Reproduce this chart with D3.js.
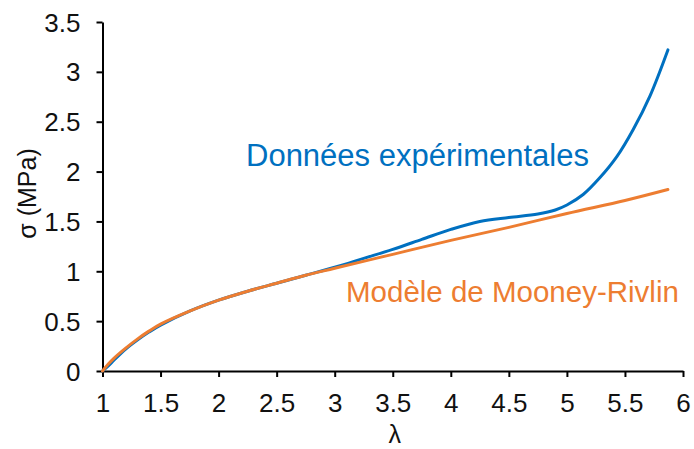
<!DOCTYPE html>
<html>
<head>
<meta charset="utf-8">
<script src="https://cdn.jsdelivr.net/npm/d3@7/dist/d3.min.js"></script>
<style>
  html, body { margin: 0; padding: 0; background: #fff; }
  svg { display: block; font-family: "Liberation Sans", Arial, sans-serif; }
</style>
</head>
<body>
<svg id="chart" width="694" height="449"></svg>
<script>
// Stretch λ and measured / modelled stress σ (MPa)
const expLambda = [1.00, 1.05, 1.10, 1.20, 1.30, 1.40, 1.50, 1.75, 2.00, 2.25, 2.50, 2.75, 3.00, 3.25, 3.50, 3.75, 4.00, 4.25, 4.50, 4.75, 4.90, 5.00, 5.14, 5.285, 5.43, 5.57, 5.716, 5.87];
const expSigma  = [0.00, 0.05, 0.11, 0.22, 0.31, 0.39, 0.46, 0.60, 0.71, 0.80, 0.88, 0.96, 1.04, 1.13, 1.22, 1.32, 1.42, 1.50, 1.54, 1.575, 1.615, 1.665, 1.77, 1.94, 2.15, 2.42, 2.76, 3.22];

const mrLambda = [1.00, 1.05, 1.10, 1.20, 1.30, 1.40, 1.50, 1.75, 2.00, 2.25, 2.50, 2.75, 3.00, 3.50, 4.00, 4.50, 5.00, 5.50, 5.87];
const mrSigma  = [0.00, 0.07, 0.13, 0.23, 0.32, 0.40, 0.47, 0.60, 0.71, 0.80, 0.88, 0.96, 1.03, 1.17, 1.31, 1.44, 1.58, 1.71, 1.82];

const xTicks = [1, 1.5, 2, 2.5, 3, 3.5, 4, 4.5, 5, 5.5, 6];
const yTicks = [0, 0.5, 1, 1.5, 2, 2.5, 3, 3.5];

const seriesNames = ["Données expérimentales", "Modèle de Mooney-Rivlin"];
const seriesColors = ["#0070C0", "#ED7D31"];

const svg = d3.select("#chart");
const plot = { left: 102.5, right: 683, top: 22, bottom: 371 };

const x = d3.scaleLinear().domain([1, 6]).range([plot.left, plot.right]);
const y = d3.scaleLinear().domain([0, 3.5]).range([plot.bottom, plot.top]);

// Axes
const xAxis = d3.axisBottom(x).tickValues(xTicks).tickSize(6).tickSizeOuter(0)
  .tickFormat(d => String(d));
const yAxis = d3.axisLeft(y).tickValues(yTicks).tickSize(6).tickSizeOuter(0)
  .tickFormat(d => String(d));

const gx = svg.append("g").attr("transform", `translate(0,${plot.bottom})`).call(xAxis);
const gy = svg.append("g").attr("transform", `translate(${plot.left},0)`).call(yAxis);

[gx, gy].forEach(g => {
  g.select(".domain").attr("stroke", "#000").attr("stroke-width", 2);
  g.selectAll(".tick line").attr("stroke", "#000").attr("stroke-width", 2);
  g.selectAll(".tick text")
    .attr("fill", "#111")
    .attr("font-size", 26)
    .attr("font-family", "Liberation Sans, Arial, sans-serif");
});
gx.selectAll(".tick text").attr("dy", null).attr("y", 41);
gy.selectAll(".tick text").attr("x", -22).attr("dy", "0.35em");

// Axis titles
svg.append("text")
  .attr("x", (plot.left + plot.right) / 2 + 2)
  .attr("y", 443)
  .attr("text-anchor", "middle")
  .attr("font-size", 25)
  .attr("fill", "#111")
  .text("λ");

svg.append("text")
  .attr("transform", `translate(36,${(plot.top + plot.bottom) / 2 - 3}) rotate(-90)`)
  .attr("text-anchor", "middle")
  .attr("font-size", 25)
  .attr("fill", "#111")
  .text("σ (MPa)");

// Curves
const line = d3.line().curve(d3.curveCatmullRom.alpha(0.5));

const mrPts = mrLambda.map((l, i) => [x(l), y(mrSigma[i])]);
const expPts = expLambda.map((l, i) => [x(l), y(expSigma[i])]);

svg.append("path")
  .attr("d", line(expPts))
  .attr("fill", "none")
  .attr("stroke", seriesColors[0])
  .attr("stroke-width", 3)
  .attr("stroke-linecap", "round");

svg.append("path")
  .attr("d", line(mrPts))
  .attr("fill", "none")
  .attr("stroke", seriesColors[1])
  .attr("stroke-width", 3)
  .attr("stroke-linecap", "round");

// Series labels
svg.append("text")
  .attr("x", 246)
  .attr("y", 166)
  .attr("font-size", 31)
  .attr("fill", seriesColors[0])
  .text(seriesNames[0]);

svg.append("text")
  .attr("x", 346)
  .attr("y", 302)
  .attr("font-size", 29.5)
  .attr("fill", seriesColors[1])
  .text(seriesNames[1]);
</script>
</body>
</html>
